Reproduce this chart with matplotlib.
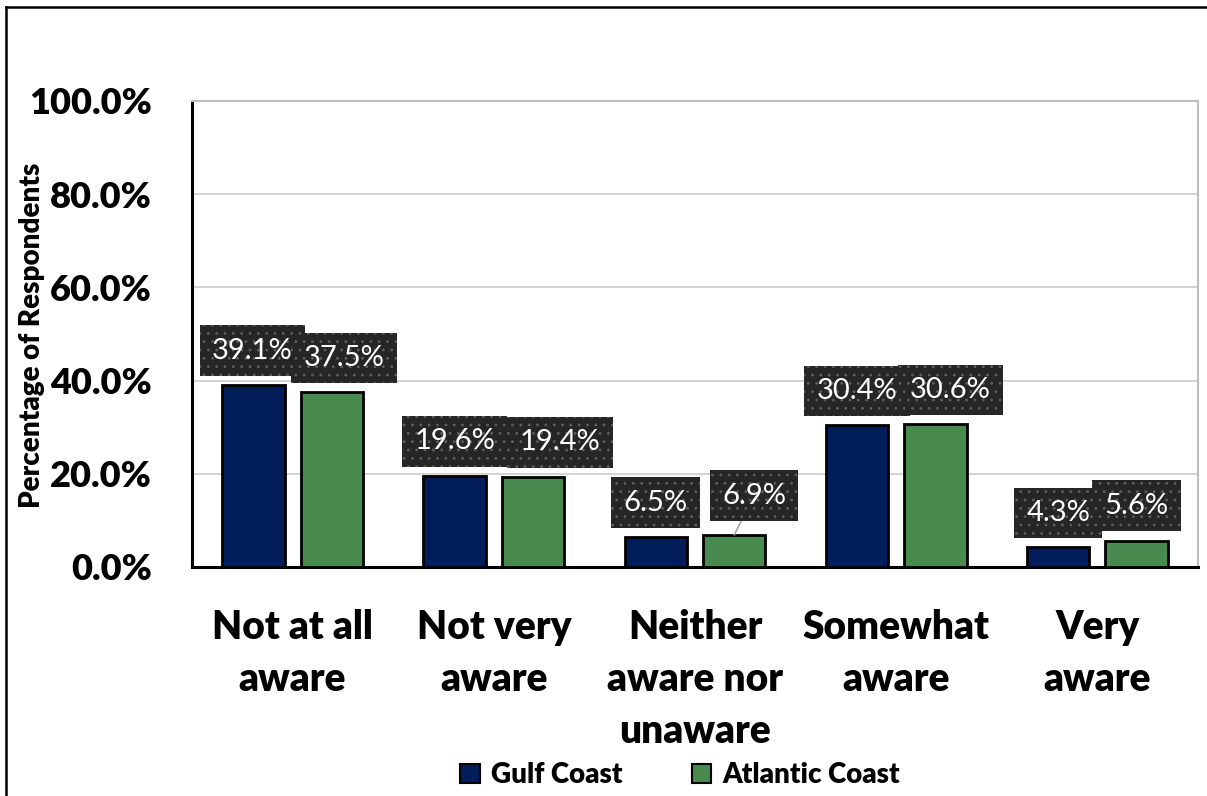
import matplotlib
matplotlib.use("Agg")
import matplotlib.pyplot as plt
from matplotlib.patches import Patch
from matplotlib.lines import Line2D
from matplotlib.ticker import PercentFormatter

# Survey results
categories = ["Not at all\naware", "Not very\naware", "Neither\naware nor\nunaware",
              "Somewhat\naware", "Very\naware"]
gulf_coast = [39.1, 19.6, 6.5, 30.4, 4.3]
atlantic_coast = [37.5, 19.4, 6.9, 30.6, 5.6]
series_names = ["Gulf Coast", "Atlantic Coast"]
y_ticks = [0, 20, 40, 60, 80, 100]

# Label nudges (pixels: dx, extra dy) to keep neighbouring boxes apart
gulf_nudge = [(-1, 0), (0, 0), (0, 0), (0, 0), (0, 0)]
atlantic_nudge = [(12, 0), (27, 0), (20, 5), (15, 0), (0, 1)]

NAVY = "#021E5A"
GREEN = "#498A4F"
DPI = 100
PX = 72.0 / DPI  # points per pixel
FONTS = ["Lato", "DejaVu Sans"]

plt.rcParams["font.family"] = FONTS
plt.rcParams["hatch.linewidth"] = 0.8

fig = plt.figure(figsize=(12.07, 7.96), dpi=DPI)
ax = fig.add_axes([192 / 1207, 1 - 567 / 796, (1198 - 192) / 1207, (567 - 101) / 796])

x = list(range(len(categories)))
offset = 0.195
width = 0.31
xg = [i - offset for i in x]
xa = [i + offset for i in x]

ax.bar(xg, gulf_coast, width, color=NAVY, edgecolor="black", linewidth=2, zorder=3)
ax.bar(xa, atlantic_coast, width, color=GREEN, edgecolor="black", linewidth=2, zorder=3)

ax.set_xlim(-0.5, len(categories) - 0.5)
ax.set_ylim(0, 100)
ax.set_yticks(y_ticks)
ax.yaxis.set_major_formatter(PercentFormatter(decimals=1))
ax.grid(axis="y", color="#D0D0D0", linewidth=1.3, zorder=0)
ax.set_axisbelow(True)

ax.set_xticks(x)
ax.set_xticklabels(categories, fontsize=28, fontweight="heavy", linespacing=1.5,
                   va="top")
ax.tick_params(axis="x", length=0, pad=30)
ax.tick_params(axis="y", length=0, pad=29, labelsize=26)
for lab in ax.get_yticklabels():
    lab.set_fontweight("heavy")

for side in ("left", "bottom"):
    ax.spines[side].set_color("black")
    ax.spines[side].set_linewidth(2.2)
for side in ("top", "right"):
    ax.spines[side].set_color("#BFBFBF")
    ax.spines[side].set_linewidth(1.5)

fig.text(32 / 1207, 1 - 335 / 796, "Percentage of Respondents", rotation=90,
         ha="center", va="center", fontsize=20, fontweight="heavy")


def add_label(xpos, val, nudge, leader=False):
    dx, dy = nudge
    pad_pt = 9.5
    arrow = None
    if leader:
        arrow = dict(arrowstyle="-", color="#A6A6A6", lw=1.2, shrinkA=0, shrinkB=0)
    ann = ax.annotate(f"{val:.1f}%", xy=(xpos, val),
                      xytext=(dx * PX, (8 + dy) * PX + pad_pt),
                      textcoords="offset points", ha="center", va="bottom",
                      fontsize=21, color="white", zorder=5,
                      arrowprops=arrow,
                      bbox=dict(boxstyle="square,pad=0.42", facecolor="#262626",
                                edgecolor="#5E5E5E", linewidth=0))
    ann.get_bbox_patch().set_hatch("..")


for i in x:
    add_label(xg[i], gulf_coast[i], gulf_nudge[i])
    add_label(xa[i], atlantic_coast[i], atlantic_nudge[i], leader=(i == 2))

handles = [Patch(facecolor=NAVY, edgecolor="black", linewidth=1.5),
           Patch(facecolor=GREEN, edgecolor="black", linewidth=1.5)]
fig.legend(handles, series_names, loc="center", bbox_to_anchor=(680 / 1207, 1 - 775 / 796),
           ncol=2, frameon=False, handlelength=0.7, handleheight=0.7,
           handletextpad=0.4, columnspacing=2.5,
           prop=dict(family=FONTS, weight="heavy", size=20))

# Outer frame: left and top edges
fig.add_artist(Line2D([6 / 1207, 6 / 1207], [0, 1 - 7 / 796], color="black",
                      linewidth=1.8, transform=fig.transFigure))
fig.add_artist(Line2D([6 / 1207, 1], [1 - 7 / 796, 1 - 7 / 796], color="black",
                      linewidth=1.8, transform=fig.transFigure))

fig.savefig("out.png", dpi=DPI)
